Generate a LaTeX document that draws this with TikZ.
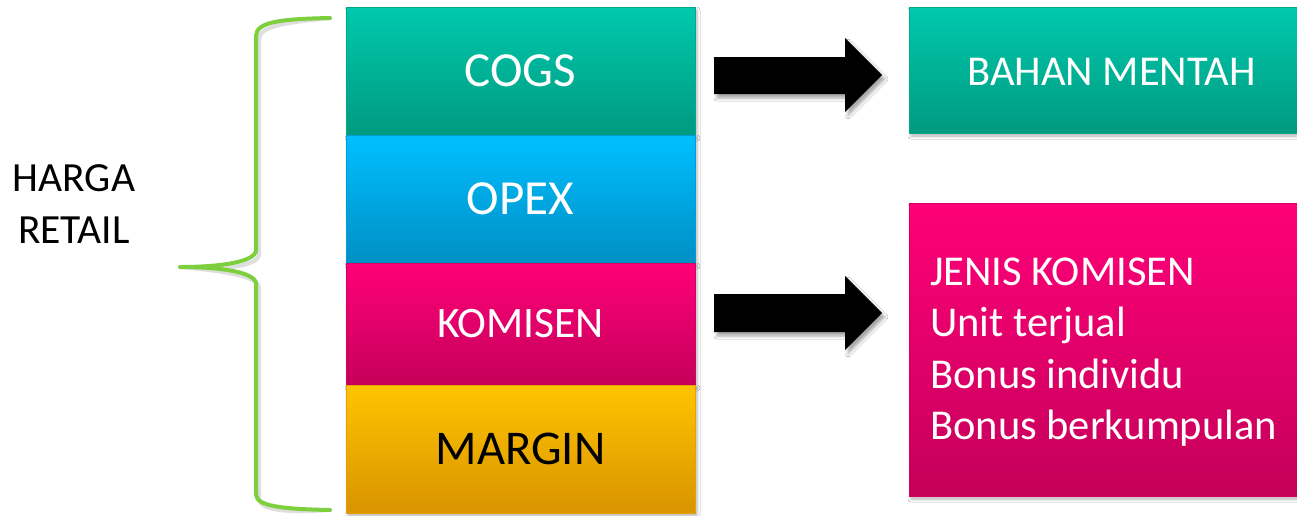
\documentclass[tikz,border=0pt]{standalone}
\usepackage{fontspec}
\setmainfont{Carlito}
\usetikzlibrary{shadows.blur}

\definecolor{tealtop}{HTML}{00C9AD}
\definecolor{tealbot}{HTML}{009A80}
\definecolor{bluetop}{HTML}{00BFFF}
\definecolor{bluebot}{HTML}{008FC4}
\definecolor{pinktop}{HTML}{FF0078}
\definecolor{pinkbot}{HTML}{C4005A}
\definecolor{goldtop}{HTML}{FFC400}
\definecolor{goldbot}{HTML}{D99400}
\definecolor{bracegreen}{HTML}{7DCF3E}

\tikzset{
  bar/.style 2 args={rectangle, inner sep=0pt, outer sep=0pt,
    top color=#1, bottom color=#2, draw=#2!70!#1, line width=0.8pt,
    blur shadow={shadow xshift=2pt, shadow yshift=-3pt,
      shadow blur radius=3pt, shadow opacity=30}},
  label/.style={text=white, inner sep=0pt},
  blockarrow/.style={fill=black,
    blur shadow={shadow xshift=3pt, shadow yshift=-4pt,
      shadow blur radius=3pt, shadow opacity=35}},
  bracepath/.style={draw=bracegreen, line width=4pt, line cap=round, line join=round},
  braceshade/.style={draw=black!25, line width=4pt, line cap=round, line join=round, opacity=0.5},
}

% outline of the curly brace
\newcommand\bracecurve{(btop) .. controls (280,19) and (256,22) .. (256,36)
    -- (256,250) .. controls (256,262) and (220,267) .. (btip)
    .. controls (220,267) and (256,272) .. (256,284)
    -- (256,494) .. controls (256,506) and (280,509) .. (bbot)}

\begin{document}
\begin{tikzpicture}[x=1pt, y=-1pt]
\useasboundingbox[fill=white] (0,0) rectangle (1297,515);

% stacked cost components
\node[bar={tealtop}{tealbot}, minimum width=349pt, minimum height=128pt] (cogs) at (520.5,71) {};
\node[bar={bluetop}{bluebot}, minimum width=349pt, minimum height=128pt] (opex) at (520.5,199) {};
\node[bar={pinktop}{pinkbot}, minimum width=349pt, minimum height=122pt] (komisen) at (520.5,324) {};
\node[bar={goldtop}{goldbot}, minimum width=349pt, minimum height=128pt] (margin) at (520.5,449) {};

\node[label, font=\fontsize{49}{53}\selectfont] (cogst) at (cogs.center) {COGS};
\node[label, font=\fontsize{49}{53}\selectfont] (opext) at (opex.center) {OPEX};
\node[label, font=\fontsize{43.5}{47}\selectfont] (komisent) at (komisen.center) {KOMISEN};
\node[label, text=black, font=\fontsize{48.5}{52}\selectfont] (margint) at (margin.center) {MARGIN};

% detail boxes on the right
\node[bar={tealtop}{tealbot}, minimum width=390pt, minimum height=126pt] (bahan) at (1104,70) {};
\node[label, font=\fontsize{42.5}{46}\selectfont] (bahant) at (1111.5,72) {BAHAN MENTAH};

\node[bar={pinktop}{pinkbot}, minimum width=390pt, minimum height=293pt] (jenis) at (1104,349.5) {};
\node[label, anchor=west, align=left, font=\fontsize{42.5}{51.5}\selectfont] (jenist) at (930,352)
  {JENIS KOMISEN\\Unit terjual\\Bonus individu\\Bonus berkumpulan};

% block arrows
\path[blockarrow] (714,57) -- (845,57) -- (845,38) -- (882,75) -- (845,112) -- (845,94) -- (714,94) -- cycle;
\path[blockarrow] (714,294) -- (845,294) -- (845,276) -- (882,313) -- (845,350) -- (845,332) -- (714,332) -- cycle;

% curly brace with its soft shadow
\coordinate (btop) at (330,18);
\coordinate (btip) at (180,267);
\coordinate (bbot) at (330,510);
\begin{scope}[shift={(3,4)}]
  \draw[braceshade] \bracecurve;
\end{scope}
\draw[bracepath] \bracecurve;

\node[inner sep=0pt, align=center, font=\fontsize{41.5}{52}\selectfont] (harga) at (74,204) {HARGA\\RETAIL};
\end{tikzpicture}
\end{document}
